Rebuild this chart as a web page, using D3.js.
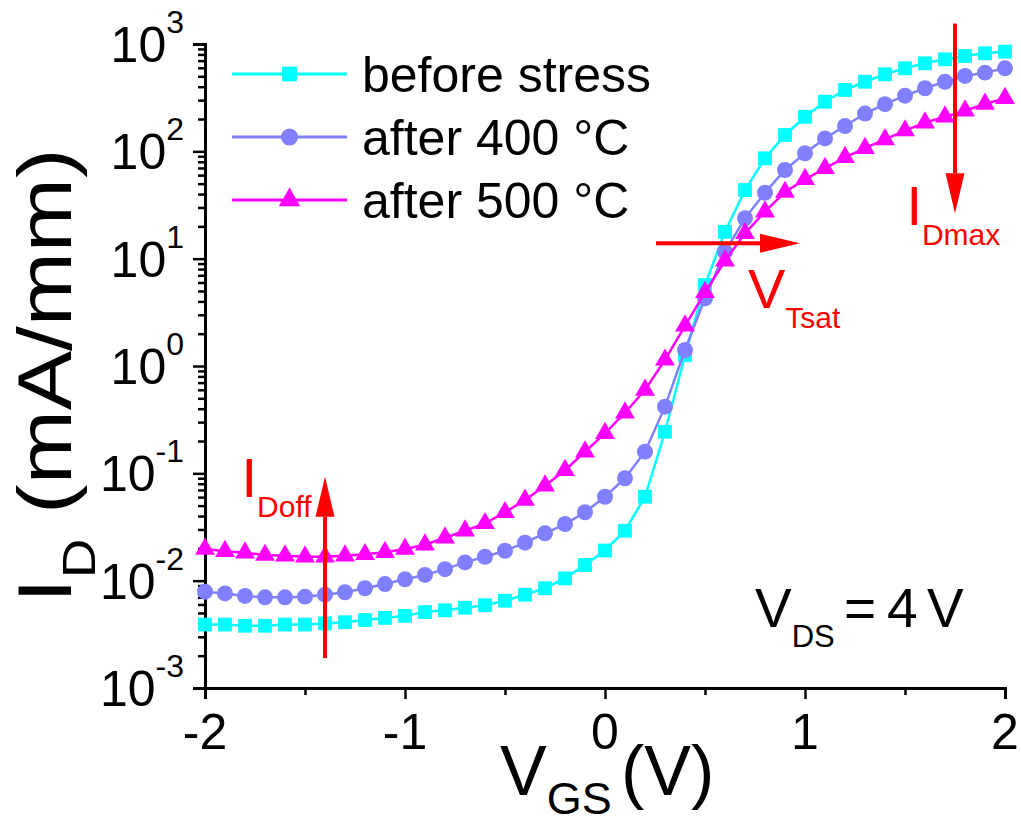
<!DOCTYPE html>
<html>
<head>
<meta charset="utf-8">
<script src="https://cdn.jsdelivr.net/npm/d3@7"></script>
<style>
  body { margin: 0; background: #fff; }
  svg text { font-family: "Liberation Sans", Arial, Helvetica, sans-serif; }
</style>
</head>
<body>
<svg id="chart" width="1021" height="826"></svg>
<script>
// Gate voltage sweep (V)
const vgs = [-2.0,-1.9,-1.8,-1.7,-1.6,-1.5,-1.4,-1.3,-1.2,-1.1,-1.0,
             -0.9,-0.8,-0.7,-0.6,-0.5,-0.4,-0.3,-0.2,-0.1,0.0,
             0.1,0.2,0.3,0.4,0.5,0.6,0.7,0.8,0.9,1.0,
             1.1,1.2,1.3,1.4,1.5,1.6,1.7,1.8,1.9,2.0];

// Drain current (mA/mm) for each condition
const beforeStress = [0.0039,0.0039,0.0038,0.0038,0.0039,0.0039,0.0040,0.0041,0.0043,0.0045,0.0047,
                      0.0051,0.0053,0.0056,0.0059,0.0065,0.0074,0.0085,0.0105,0.0140,0.0191,
                      0.0292,0.0605,0.244,1.26,5.69,17.8,43.6,86.1,142,210,
                      290,373,445,522,594,661,720,773,819,848];
const after400 = [0.0079,0.0076,0.0072,0.0070,0.0070,0.0071,0.0074,0.0078,0.0085,0.0093,0.0103,
                  0.0113,0.0128,0.0148,0.0167,0.0190,0.0226,0.0276,0.0337,0.0434,0.0605,
                  0.090,0.159,0.418,1.41,4.27,11.6,23.8,41.2,67,96,
                  132,172,225,275,330,387,445,504,541,594];
const after500 = [0.0197,0.0188,0.0182,0.0173,0.0171,0.0167,0.0167,0.0171,0.0176,0.0184,0.0197,
                  0.0216,0.0251,0.0292,0.0342,0.0433,0.0564,0.0767,0.107,0.159,0.236,
                  0.367,0.597,1.14,2.37,4.86,9.57,17.2,27.4,41.7,54.9,
                  69.5,88,107,129,156,185,210,239,276,312];

const seriesNames = ["before stress", "after 400 °C", "after 500 °C"];
const seriesColors = ["#00FFFF", "#8080FF", "#FF00FF"];
const seriesSymbols = [d3.symbolSquare, d3.symbolCircle, d3.symbolTriangle];
const seriesSymbolSizes = [190, 200, 170];

const xTickValues = [-2, -1, 0, 1, 2];
const xMinorTickValues = [-1.5, -0.5, 0.5, 1.5];
const yTickExponents = [-3, -2, -1, 0, 1, 2, 3];

// Annotation anchors in data units
const idoffArrow = { x: -1.4, y0: 0.0019, y1: 0.093 };
const vtsatArrow = { y: 13.9, x0: 0.255, x1: 0.975 };
const idmaxArrow = { x: 1.75, y0: 1550, y1: 26.5 };

const svg = d3.select("#chart");
const FONT = 50;

const x = d3.scaleLinear().domain([-2, 2]).range([205, 1005]);
const y = d3.scaleLog().domain([1e-3, 1e3]).range([688, 44]);

// ---- axes ----
const xAxis = d3.axisBottom(x)
  .tickValues(xTickValues.concat(xMinorTickValues))
  .tickFormat("")
  .tickSizeOuter(0)
  .tickSize(11);
const gx = svg.append("g").attr("transform", "translate(0,688)").call(xAxis);
gx.selectAll(".tick line")
  .attr("y2", d => xTickValues.includes(d) ? 11 : 7);

const yMinor = [];
yTickExponents.slice(0, -1).forEach(k => {
  for (let m = 2; m <= 9; m++) yMinor.push(m * Math.pow(10, k));
});
const yMajor = yTickExponents.map(k => Math.pow(10, k));
const yAxis = d3.axisLeft(y)
  .tickValues(yMajor.concat(yMinor))
  .tickFormat("")
  .tickSizeOuter(0)
  .tickSize(12);
const gy = svg.append("g").attr("transform", "translate(205,0)").call(yAxis);
gy.selectAll(".tick line")
  .attr("x2", d => yMajor.some(v => Math.abs(v - d) / v < 1e-9) ? -12 : -7);

[gx, gy].forEach(g => {
  g.select(".domain").attr("stroke", "#000").attr("stroke-width", 3);
  g.selectAll(".tick line").attr("stroke", "#000").attr("stroke-width", 2.5);
});

// x tick labels
svg.append("g").selectAll("text")
  .data(xTickValues)
  .join("text")
  .attr("x", d => x(d))
  .attr("y", 749)
  .attr("text-anchor", "middle")
  .attr("font-size", FONT)
  .text(d => d < 0 ? "-" + Math.abs(d) : String(d));

// y tick labels: 10^k
const yl = svg.append("g").selectAll("text")
  .data(yTickExponents)
  .join("text")
  .attr("x", 184)
  .attr("y", k => y(Math.pow(10, k)) + 18)
  .attr("text-anchor", "end")
  .attr("font-size", FONT);
yl.append("tspan").text("10");
yl.append("tspan").attr("font-size", 32).attr("dy", -29).text(k => k < 0 ? "-" + Math.abs(k) : String(k));

// axis titles
const xt = svg.append("text").attr("x", 500).attr("y", 795).attr("font-size", 70);
xt.append("tspan").text("V");
xt.append("tspan").attr("font-size", 45).attr("dy", 19).text("GS");
xt.append("tspan").attr("x", 621).attr("dy", -19).text("(V)");

const yt = svg.append("text")
  .attr("transform", "translate(71,603) rotate(-90) scale(1.17,1)")
  .attr("font-size", 76);
yt.append("tspan").text("I");
yt.append("tspan").attr("font-size", 47).attr("dy", 24).text("D");
yt.append("tspan").attr("dy", -24).text(" (mA/mm)");

// ---- data series ----
const allSeries = [beforeStress, after400, after500];
allSeries.forEach((vals, i) => {
  const pts = vgs.map((v, j) => [v, vals[j]]);
  const g = svg.append("g");
  g.append("path")
    .datum(pts)
    .attr("fill", "none")
    .attr("stroke", seriesColors[i])
    .attr("stroke-width", 2.5)
    .attr("d", d3.line().x(d => x(d[0])).y(d => y(d[1])));
  g.selectAll("path.pt")
    .data(pts)
    .join("path")
    .attr("class", "pt")
    .attr("transform", d => `translate(${x(d[0])},${y(d[1])})`)
    .attr("fill", seriesColors[i])
    .attr("d", d3.symbol().type(seriesSymbols[i]).size(seriesSymbolSizes[i]));
});

// ---- legend ----
const legendRows = [74, 137, 200];
const lg = svg.append("g");
seriesNames.forEach((name, i) => {
  const ly = legendRows[i];
  lg.append("line").attr("x1", 232).attr("x2", 347).attr("y1", ly).attr("y2", ly)
    .attr("stroke", seriesColors[i]).attr("stroke-width", 3);
  lg.append("path")
    .attr("transform", `translate(289.5,${ly})`)
    .attr("fill", seriesColors[i])
    .attr("d", d3.symbol().type(seriesSymbols[i]).size(seriesSymbolSizes[i] + 30));
  lg.append("text").attr("x", 362).attr("y", ly + 17.5)
    .attr("font-size", FONT).text(name);
});

// ---- annotations ----
const RED = "#FF0000";
function arrow(x1, y1, x2, y2) {
  const ang = Math.atan2(y2 - y1, x2 - x1);
  const len = 40, hw = 9.5;
  const bx = x2 - len * Math.cos(ang), by = y2 - len * Math.sin(ang);
  svg.append("line").attr("x1", x1).attr("y1", y1).attr("x2", bx).attr("y2", by)
    .attr("stroke", RED).attr("stroke-width", 4);
  const px = -Math.sin(ang) * hw, py = Math.cos(ang) * hw;
  svg.append("polygon")
    .attr("points", `${x2},${y2} ${bx + px},${by + py} ${bx - px},${by - py}`)
    .attr("fill", RED);
}
arrow(x(idoffArrow.x), y(idoffArrow.y0), x(idoffArrow.x), y(idoffArrow.y1));
arrow(x(vtsatArrow.x0), y(vtsatArrow.y), x(vtsatArrow.x1), y(vtsatArrow.y));
arrow(x(idmaxArrow.x), y(idmaxArrow.y0), x(idmaxArrow.x), y(idmaxArrow.y1));

function subLabel(xp, yp, main, sub, mainSize, subSize, shift) {
  const t = svg.append("text").attr("x", xp).attr("y", yp)
    .attr("font-size", mainSize).attr("fill", RED);
  t.append("tspan").text(main);
  t.append("tspan").attr("font-size", subSize).attr("dy", shift).text(sub);
}
subLabel(241.5, 497, "I", "Doff", 56, 30, 20);
subLabel(748, 308, "V", "Tsat", 56, 30, 20);
subLabel(906.4, 225, "I", "Dmax", 56, 30, 20);

// operating condition
const vds = svg.append("text").attr("x", 755).attr("y", 627).attr("font-size", 55);
vds.append("tspan").text("V");
vds.append("tspan").attr("font-size", 31).attr("dy", 20).text("DS");
vds.append("tspan").attr("x", 844).attr("dy", -20).text("=");
vds.append("tspan").attr("x", 887).text("4");
vds.append("tspan").attr("x", 927).text("V");
</script>
</body>
</html>
